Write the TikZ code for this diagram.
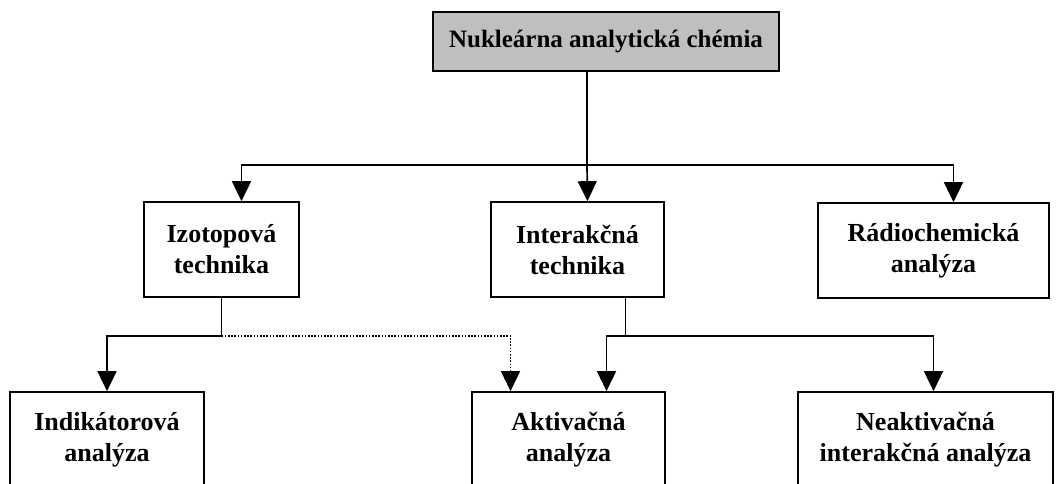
\documentclass[tikz,border=0pt]{standalone}
\usepackage{fontspec}
\setmainfont{Liberation Serif}
\usetikzlibrary{arrows.meta}

\begin{document}
\begin{tikzpicture}[
    x=1pt, y=-1pt,
    box/.style={draw, line width=1.7pt, minimum height=95pt,
                align=center, inner sep=0pt,
                font=\fontsize{26}{31}\selectfont\bfseries},
    head/.style={box, fill=black!25, minimum height=59pt,
                 font=\fontsize{25}{30}\selectfont\bfseries},
    conn/.style={line width=1.7pt},
    arr/.style={conn, -{Triangle[width=19pt,length=20pt]}},
    hint/.style={arr, line width=1.6pt, dash pattern=on 1.6pt off 1.6pt},
]
\useasboundingbox (0,0) rectangle (1056,483);

% Top of the tree
\node[head, minimum width=346pt] (nac) at (606,41.5) {Nukleárna analytická chémia};

% Three techniques
\node[box, minimum width=155pt] (izo)   at (221.5,249.5) {Izotopová\\technika};
\node[box, minimum width=173pt] (inter) at (577.5,249.5) {Interakčná\\technika};
\node[box, minimum width=231pt] (radio) at (933.5,250.5) {Rádiochemická\\analýza};

% Methods (cut off at the lower edge)
\node[box, minimum width=194pt] (indik) at (107,439.5)   {Indikátorová\\analýza};
\node[box, minimum width=193pt] (aktiv) at (568.5,439.5) {Aktivačná\\analýza};
\node[box, minimum width=255pt] (neakt) at (925.5,439.5) {Neaktivačná\\interakčná analýza};

% Branches from the top box
\coordinate (hub1) at (587,165);
\draw[conn] (hub1 |- nac.south) -- (hub1);
\draw[arr] (hub1) -| ([xshift=20]izo.north);
\draw[arr] (hub1) -- ([xshift=10]inter.north);
\draw[arr] (hub1) -| ([xshift=20]radio.north);

% Branches from the techniques
\draw[conn] (izo.south) -- ++(0,38) coordinate (hub2);
\draw[arr] (hub2) -| (indik.north);
\draw[hint] (hub2) -| ([xshift=-58]aktiv.north);
\draw[conn] ([xshift=48]inter.south) -- ++(0,38) coordinate (hub3);
\draw[arr] (hub3) -| ([xshift=38]aktiv.north);
\draw[arr] (hub3) -| ([xshift=8]neakt.north);

\end{tikzpicture}
\end{document}
